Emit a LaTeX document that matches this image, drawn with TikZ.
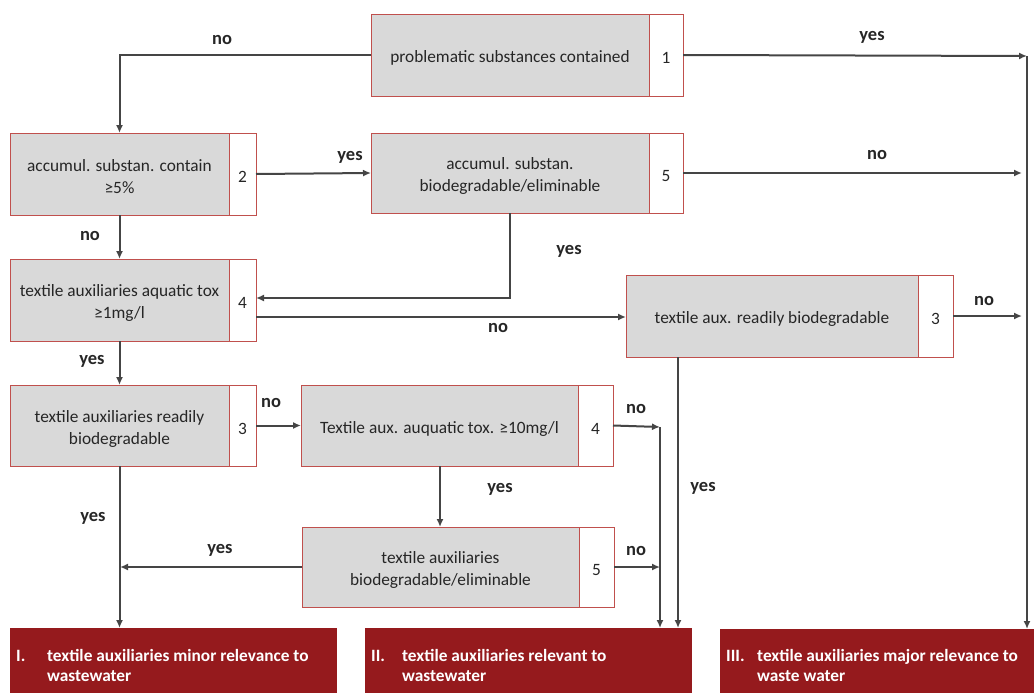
\documentclass[tikz,border=0pt]{standalone}
\usepackage{fontspec}
\setmainfont{Carlito}
\usetikzlibrary{arrows.meta}
\definecolor{boxfill}{HTML}{D9D9D9}
\definecolor{boxline}{HTML}{C0504D}
\definecolor{flow}{HTML}{454545}
\definecolor{result}{HTML}{951A1D}
\definecolor{ink}{HTML}{262626}

\tikzset{
  qbox/.style={draw=boxline, fill=boxfill, line width=0.8pt, inner sep=0pt, outer sep=0pt,
    anchor=north west},
  numbox/.style={draw=boxline, fill=white, line width=0.8pt, inner sep=0pt, outer sep=0pt,
    anchor=north west},
  qtext/.style={align=center, text=ink, inner sep=0pt, font=\fontsize{17.3}{22}\selectfont},
  flowline/.style={draw=flow, line width=2pt, -{Latex[length=8pt,width=7pt]}},
  lbl/.style={text=ink, font=\bfseries\fontsize{18.5}{22}\selectfont},
  resbox/.style={fill=result, anchor=north west, inner sep=0pt, outer sep=0pt, minimum height=65pt},
  restext/.style={text=white, anchor=base west, inner sep=0pt,
    font=\bfseries\fontsize{17.3}{20}\selectfont}
}

\begin{document}
\begin{tikzpicture}[x=1pt,y=-1pt]
\useasboundingbox (0,0) rectangle (1034,693);

% decision boxes with their step numbers
\node[qbox, minimum width=278pt, minimum height=82pt] (b1) at (371,14) {};
\node[numbox, minimum width=34pt, minimum height=82pt] (n1) at (649,14) {};
\node[qtext] (t1) at ([yshift=-3pt]b1.center) {problematic substances contained};
\node[qtext] (m1) at ([yshift=-3pt]n1.center) {1};

\node[qbox, minimum width=219pt, minimum height=82pt] (b2) at (10,133) {};
\node[numbox, minimum width=27pt, minimum height=82pt] (n2) at (229,133) {};
\node[qtext] (t2) at ([yshift=-3pt]b2.center) {accumul. substan. contain\\≥5\%};
\node[qtext] (m2) at ([yshift=-3pt]n2.center) {2};

\node[qbox, minimum width=278pt, minimum height=80pt] (b5) at (371,133) {};
\node[numbox, minimum width=34pt, minimum height=80pt] (n5) at (649,133) {};
\node[qtext] (t5) at ([yshift=-3pt]b5.center) {accumul. substan.\\biodegradable/eliminable};
\node[qtext] (m5) at ([yshift=-3pt]n5.center) {5};

\node[qbox, minimum width=219pt, minimum height=82pt] (b4) at (10,259) {};
\node[numbox, minimum width=27pt, minimum height=82pt] (n4) at (229,259) {};
\node[qtext] (t4) at ([yshift=-3pt]b4.center) {textile auxiliaries aquatic tox\\≥1mg/l};
\node[qtext] (m4) at ([yshift=-3pt]n4.center) {4};

\node[qbox, minimum width=292pt, minimum height=82pt] (b3r) at (626,275) {};
\node[numbox, minimum width=35pt, minimum height=82pt] (n3r) at (918,275) {};
\node[qtext] (t3r) at ([yshift=-3pt]b3r.center) {textile aux. readily biodegradable};
\node[qtext] (m3r) at ([yshift=-3pt]n3r.center) {3};

\node[qbox, minimum width=219pt, minimum height=81pt] (b3) at (10,385) {};
\node[numbox, minimum width=27pt, minimum height=81pt] (n3) at (229,385) {};
\node[qtext] (t3) at ([yshift=-3pt]b3.center) {textile auxiliaries readily\\biodegradable};
\node[qtext] (m3) at ([yshift=-3pt]n3.center) {3};

\node[qbox, minimum width=277pt, minimum height=81pt] (b4m) at (301,385) {};
\node[numbox, minimum width=35pt, minimum height=81pt] (n4m) at (578,385) {};
\node[qtext] (t4m) at ([yshift=-3pt]b4m.center) {Textile aux. auquatic tox. ≥10mg/l};
\node[qtext] (m4m) at ([yshift=-3pt]n4m.center) {4};

\node[qbox, minimum width=277pt, minimum height=80pt] (b5b) at (302,527) {};
\node[numbox, minimum width=35pt, minimum height=80pt] (n5b) at (579,527) {};
\node[qtext] (t5b) at ([yshift=-3pt]b5b.center) {textile auxiliaries\\biodegradable/eliminable};
\node[qtext] (m5b) at ([yshift=-3pt]n5b.center) {5};

% result categories
\node[resbox, minimum width=327pt] (r1) at (10,628) {};
\node[restext] (r1n) at (16,661) {I.};
\node[restext] (r1a) at (47,661) {textile auxiliaries minor relevance to};
\node[restext] (r1b) at (47,681) {wastewater};

\node[resbox, minimum width=327pt] (r2) at (365,628) {};
\node[restext] (r2n) at (371,661) {II.};
\node[restext] (r2a) at (402,661) {textile auxiliaries relevant to};
\node[restext] (r2b) at (402,681) {wastewater};

\node[resbox, minimum width=314pt, minimum height=64pt] (r3) at (720,629) {};
\node[restext] (r3n) at (726,661) {III.};
\node[restext] (r3a) at (757,661) {textile auxiliaries major relevance to};
\node[restext] (r3b) at (757,681) {waste water};

% collector rails
\coordinate (railIII) at (1027,56);
\coordinate (railII) at (660,427);

% connectors
\draw[flowline] (b1.west) -| (b2.north);
\draw[flowline] (n1.east) -- (railIII);
\draw[flowline] (railIII) -- (railIII |- r3.north);
\draw[flowline] (n2.east) -- (b5.west);
\draw[flowline] (n5.east) -- (1022,173);
\draw[flowline] (b2.south) -- (b4.north);
\draw[flowline] (b5.south -| 510,0) |- (n4.east |- 0,298);
\draw[flowline] (n4.east |- 0,317) -- (b3r.west |- 0,317);
\draw[flowline] (n3r.east) -- (1022,316);
\draw[flowline] (b4.south) -- (b3.north);
\draw[flowline] (n3.east) -- (b4m.west);
\draw[flowline] (n4m.east) -- (railII);
\draw[flowline] (railII) -- (railII |- r2.north);
\draw[flowline] (n5b.east) -- (railII |- n5b.east);
\draw[flowline] (b3r.south -| 678,0) -- (678,628);
\draw[flowline] (b4m.south -| 440,0) -- (b5b.north -| 440,0);
\draw[flowline] (b5b.west) -- (120,567);
\draw[flowline] (b3.south) -- (b3.south |- r1.north);

% branch labels
\node[lbl] (l1) at (222,40) {no};
\node[lbl] (l2) at (872,37) {yes};
\node[lbl] (l3) at (350,157) {yes};
\node[lbl] (l4) at (877,155) {no};
\node[lbl] (l5) at (90,236) {no};
\node[lbl] (l6) at (569,251) {yes};
\node[lbl] (l7) at (498,328) {no};
\node[lbl] (l8) at (984,301) {no};
\node[lbl] (l9) at (92,361) {yes};
\node[lbl] (l10) at (271,403) {no};
\node[lbl] (l11) at (636,409) {no};
\node[lbl] (l12) at (636,551) {no};
\node[lbl] (l13) at (703,488) {yes};
\node[lbl] (l14) at (500,489) {yes};
\node[lbl] (l15) at (220,550) {yes};
\node[lbl] (l16) at (93,518) {yes};
\end{tikzpicture}
\end{document}
